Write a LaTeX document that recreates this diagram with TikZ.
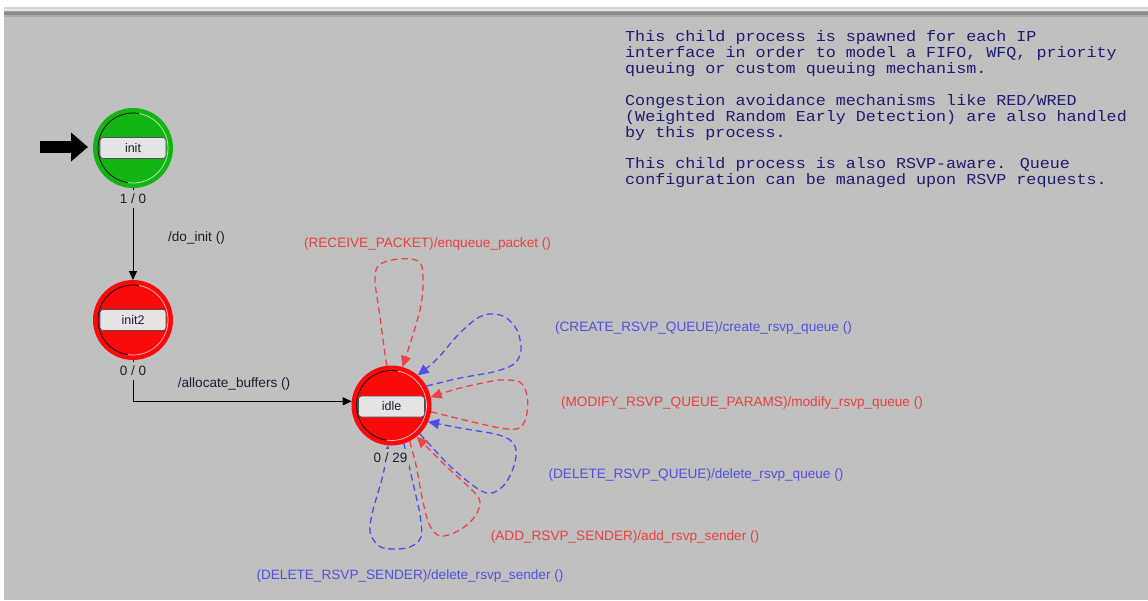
\documentclass[tikz,border=0pt]{standalone}
\usepackage{fontspec}
\setmainfont{Liberation Sans}
\newfontfamily\descfont[FakeStretch=1.1]{Liberation Mono}
\usetikzlibrary{arrows.meta}

\definecolor{canvas}{RGB}{192,192,192}
\definecolor{stripeA}{RGB}{212,212,212}
\definecolor{stripeB}{RGB}{228,228,228}
\definecolor{stripeC}{RGB}{160,160,160}
\definecolor{stripeD}{RGB}{136,136,136}
\definecolor{stripeE}{RGB}{170,170,170}
\definecolor{stategreen}{RGB}{20,180,20}
\definecolor{statered}{RGB}{250,10,10}
\definecolor{trred}{RGB}{238,68,72}
\definecolor{trblue}{RGB}{78,78,238}
\definecolor{txtred}{RGB}{232,64,64}
\definecolor{txtblue}{RGB}{80,80,225}
\definecolor{ink}{RGB}{30,30,50}
\definecolor{notecol}{RGB}{28,28,112}
\definecolor{boxfill}{RGB}{228,228,228}
\definecolor{boxline}{RGB}{80,80,80}

% sunken ring inside a state disc: dark on the left, light on the right
\newcommand\ringmarks[2]{%
  \draw[black, line width=0.7pt] (#1.center) ++(80:35pt) arc[start angle=80, end angle=262, radius=35pt];
  \draw[#2!25!white, line width=0.7pt] (#1.center) ++(262:35pt) arc[start angle=262, end angle=440, radius=35pt];
}

\begin{document}
\begin{tikzpicture}[x=1pt,y=-1pt,
  opstate/.style={circle, minimum size=80pt, inner sep=0pt, outer sep=0pt, fill=#1},
  namebox/.style={rectangle, rounded corners=3pt, draw=boxline, fill=boxfill, line width=0.8pt,
    minimum width=66pt, minimum height=21pt, inner sep=0pt, font=\fontsize{12.5}{14}\selectfont, text=ink},
  tally/.style={fill=canvas, inner xsep=2pt, inner ysep=4.5pt, font=\fontsize{13.5}{15}\selectfont, text=ink},
  trlabel/.style={inner sep=0pt, font=\fontsize{13.6}{15}\selectfont, text=#1},
  notetext/.style={anchor=base west, inner sep=0pt, font=\descfont\fontsize{15.2}{16}\selectfont, text=notecol},
  solidtr/.style={draw=black, line width=1pt, -{Triangle[length=9pt,width=8pt]}},
  selfloop/.style={draw=#1, dash pattern=on 6.5pt off 4pt, line width=1.3pt, -{Triangle[length=11pt,width=10pt]}}
]
% window background and title stripes
\fill[white] (0,0) rectangle (1148,600);
\fill[canvas] (4,17) rectangle (1148,600);
\fill[stripeA] (4,7) rectangle (1148,9);
\fill[stripeB] (4,9) rectangle (1148,11);
\fill[stripeC] (4,11) rectangle (1148,12);
\fill[stripeD] (4,12) rectangle (1148,15);
\fill[stripeE] (4,15) rectangle (1148,17);

% process description
\node[notetext] (n1) at (625,41)  {This child process is spawned for each IP};
\node[notetext] (n2) at (625,57)  {interface in order to model a FIFO, WFQ, priority};
\node[notetext] (n3) at (625,73)  {queuing or custom queuing mechanism.};
\node[notetext] (n4) at (625,105) {Congestion avoidance mechanisms like RED/WRED};
\node[notetext] (n5) at (625,121) {(Weighted Random Early Detection) are also handled};
\node[notetext] (n6) at (625,137) {by this process.};
\node[notetext] (n7) at (625,168) {This child process is also RSVP-aware. Queue};
\node[notetext] (n8) at (625,184) {configuration can be managed upon RSVP requests.};

% states
\node[opstate=stategreen] (init) at (133,148) {};
\ringmarks{init}{stategreen}
\node[namebox] (initname) at (init.center) {init};

\node[opstate=statered] (init2) at (133,320) {};
\ringmarks{init2}{statered}
\node[namebox] (init2name) at (init2.center) {init2};

\node[opstate=statered] (idle) at (391.5,405.5) {};
\ringmarks{idle}{statered}
\node[namebox] (idlename) at ([yshift=-1pt]idle.center) {idle};

% initial-state marker
\coordinate (entry) at (40,147);
\draw[line width=12pt, -{Triangle[length=17pt,width=28pt]}, shorten >=5pt] (entry) -- (entry -| init.west);

% forced transitions
\draw[solidtr] (init.south) -- (init2.north);
\draw[solidtr] (init2.south) |- (idle.174);
\node[trlabel=ink] (l-doinit) at (196.5,238) {/do\_init ()};
\node[trlabel=ink] (l-alloc) at (234,384) {/allocate\_buffers ()};

% self transitions of idle
\draw[selfloop=trred] plot[smooth, tension=0.55] coordinates
  {(idle.97) (379,310) (375,280) (379,265) (398,259) (418,261) (423,275) (420,310) (idle.74)};
\draw[selfloop=trblue] plot[smooth, tension=0.55] coordinates
  {(idle.29) (460,378) (493,372) (514,364) (521,350) (517,330) (505,317) (490,314) (476,319) (457,336) (437,359) (idle.49)};
\draw[selfloop=trred] plot[smooth, tension=0.55] coordinates
  {(idle.-9) (477,423) (507,429) (521,427) (527,413) (527,395) (520,382) (505,380) (493,381) (460,388) (idle.12)};
\draw[selfloop=trblue] plot[smooth, tension=0.55] coordinates
  {(idle.-45) (450,466) (478,489) (492,493) (505,484) (514,466) (516,450) (510,440) (495,434) (460,428) (idle.-24)};
\draw[selfloop=trred] plot[smooth, tension=0.55] coordinates
  {(idle.-63) (416,465) (422,497) (429,524) (440,536) (458,531) (473,519) (480,504) (474,492) (447,467) (idle.-51)};
\draw[selfloop=trblue] plot[smooth, tension=0.55] coordinates
  {(idle.-72) (413,483) (420,515) (421,537) (410,547) (393,549) (379,546) (370,532) (373,510) (383,475) (idle.-95)};

\node[trlabel=txtred]  (l-recv)   at (427.5,244) {(RECEIVE\_PACKET)/enqueue\_packet ()};
\node[trlabel=txtblue] (l-create) at (703.5,328) {(CREATE\_RSVP\_QUEUE)/create\_rsvp\_queue ()};
\node[trlabel=txtred]  (l-modify) at (742,403)   {(MODIFY\_RSVP\_QUEUE\_PARAMS)/modify\_rsvp\_queue ()};
\node[trlabel=txtblue] (l-delq)   at (696,475)   {(DELETE\_RSVP\_QUEUE)/delete\_rsvp\_queue ()};
\node[trlabel=txtred]  (l-add)    at (625,537)   {(ADD\_RSVP\_SENDER)/add\_rsvp\_sender ()};
\node[trlabel=txtblue] (l-dels)   at (410,576)   {(DELETE\_RSVP\_SENDER)/delete\_rsvp\_sender ()};

% enter / exit executive counts
\node[tally] (c-init)  at (133,199)   {1 / 0};
\node[tally] (c-init2) at (133,371)   {0 / 0};
\node[tally] (c-idle)  at (390.5,458) {0 / 29};
\end{tikzpicture}
\end{document}
